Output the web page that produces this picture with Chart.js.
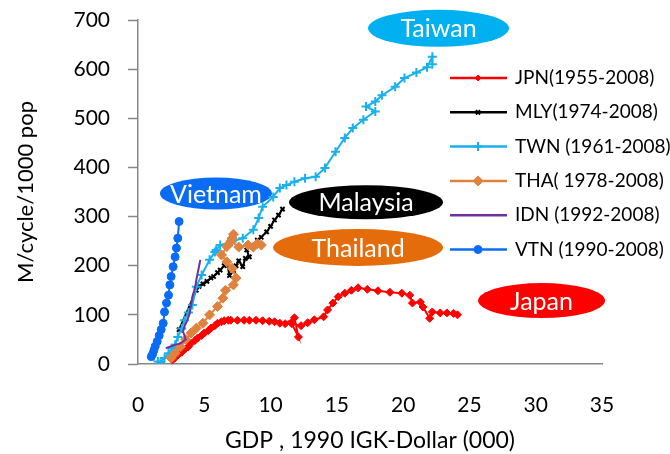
<!DOCTYPE html>
<html>
<head>
<meta charset="utf-8">
<script src="https://cdn.jsdelivr.net/npm/chart.js@4.4.0/dist/chart.umd.min.js"></script>
<style>
    html, body { margin: 0; padding: 0; background: #fff; }
    #chart-container { width: 670px; height: 454px; }
</style>
</head>
<body>
<div id="chart-container"><canvas id="myChart" width="670" height="454"></canvas></div>
<script>
// GDP (1990 IGK-Dollar, thousands) and motorcycles per 1000 people
const jpnGdp = [2.6, 2.8, 3.0, 3.3, 3.5, 3.8, 4.0, 4.3, 4.5, 4.8, 5.0, 5.3, 5.5, 5.8, 6.0, 6.3, 6.5, 6.8, 7.0, 7.5, 8.0, 8.4, 8.9, 9.4, 9.9, 10.3, 10.7, 11.1, 11.8, 12.1, 11.6, 12.3, 12.8, 13.3, 14.0, 14.3, 14.7, 15.1, 15.6, 16.1, 16.6, 17.3, 18.1, 19.0, 19.9, 20.5, 20.7, 21.3, 21.5, 22.0, 22.2, 22.8, 23.3, 23.8, 24.1];
const jpnCycles = [8, 13, 18, 24, 29, 35, 42, 48, 53, 58, 63, 68, 73, 78, 83, 86, 88, 89, 89, 89, 89, 89, 89, 88, 87, 86, 83, 82, 94, 55, 82, 78, 84, 90, 96, 110, 124, 137, 144, 150, 155, 152, 149, 146, 144, 140, 124, 126, 116, 93, 106, 104, 104, 103, 100];

const mlyGdp = [3.1, 4.4, 4.6, 4.9, 5.2, 5.5, 5.7, 6.0, 6.2, 6.5, 6.7, 6.9, 7.2, 7.4, 7.6, 7.9, 8.1, 8.4, 8.2, 8.6, 9.0, 9.3, 9.7, 10.0, 10.3, 10.6, 10.9];
const mlyCycles = [70, 150, 158, 163, 168, 175, 178, 186, 191, 200, 208, 180, 190, 200, 210, 198, 215, 218, 232, 240, 252, 258, 269, 280, 293, 303, 315];

const twnGdp = [1.5, 1.7, 2.0, 2.3, 2.6, 2.8, 3.0, 3.3, 3.5, 3.8, 4.1, 4.4, 4.8, 5.4, 5.8, 5.9, 6.2, 7.1, 7.9, 8.7, 9.1, 9.4, 10.2, 10.7, 11.2, 11.8, 12.6, 13.4, 14.1, 14.9, 15.6, 16.2, 17.0, 17.9, 17.2, 17.9, 18.4, 19.4, 20.1, 21.0, 21.8, 22.2, 22.2];
const twnCycles = [5, 4, 12, 22, 32, 39, 55, 72, 89, 105, 120, 157, 181, 212, 228, 232, 242, 249, 256, 273, 297, 320, 340, 358, 364, 371, 378, 381, 399, 432, 460, 480, 497, 514, 524, 534, 547, 564, 582, 593, 604, 625, 610];

const thaGdp = [2.5, 2.8, 3.2, 3.6, 4.0, 4.4, 4.9, 5.4, 6.0, 6.4, 6.6, 7.2, 7.4, 7.1, 6.7, 6.3, 6.7, 7.1, 7.2, 7.0, 7.6, 8.3, 8.7, 9.0, 9.3];
const thaCycles = [12, 22, 35, 50, 63, 73, 83, 100, 117, 134, 150, 161, 175, 195, 208, 222, 239, 256, 264, 250, 238, 242, 238, 245, 242];

const idnGdp = [2.1, 2.5, 2.9, 3.2, 3.6, 3.4, 3.5, 3.7, 3.9, 4.0, 4.1, 4.3, 4.4, 4.5, 4.6, 4.7];
const idnCycles = [32, 36, 40, 42, 50, 66, 76, 88, 103, 120, 137, 155, 171, 185, 198, 212];

const vtnGdp = [1.0, 1.1, 1.2, 1.3, 1.45, 1.6, 1.75, 1.9, 2.0, 2.15, 2.3, 2.4, 2.5, 2.65, 2.8, 2.9, 3.0, 3.1];
const vtnCycles = [15, 20, 28, 36, 46, 58, 70, 83, 106, 124, 140, 161, 178, 198, 218, 236, 256, 290];

const seriesNames = ['JPN(1955-2008)', 'MLY(1974-2008)', 'TWN (1961-2008)', 'THA( 1978-2008)', 'IDN (1992-2008)', 'VTN (1990-2008)'];
const xTicks = [0, 5, 10, 15, 20, 25, 30, 35];
const yTicks = [0, 100, 200, 300, 400, 500, 600, 700];

// country callouts (ellipse labels), anchored in data units
const calloutNames = ['Taiwan', 'Vietnam', 'Malaysia', 'Thailand', 'Japan'];
const calloutGdp = [22.67, 5.88, 17.2, 16.6, 30.44];
const calloutCycles = [683, 347, 329, 237, 129];

// styling
const FONT = 'Lato';
const seriesColors = ['#ff0000', '#000000', '#1ab0ec', '#e0823d', '#7030a0', '#0a6cf5'];
const seriesPoints = ['rectRot', 'crossRot', 'cross', 'rectRot', false, 'circle'];
const seriesRadius = [4, 3, 4.5, 5, 0, 4];
const calloutColors = ['#00b0f0', '#0a6cf5', '#000000', '#e46c0a', '#ff0000'];
const calloutSizes = [[141, 37], [112, 32], [154, 34], [170, 37], [127, 35]];

function toPoints(xs, ys) {
    return xs.map((x, i) => ({ x: x, y: ys[i] }));
}

const allData = [
    toPoints(jpnGdp, jpnCycles),
    toPoints(mlyGdp, mlyCycles),
    toPoints(twnGdp, twnCycles),
    toPoints(thaGdp, thaCycles),
    toPoints(idnGdp, idnCycles),
    toPoints(vtnGdp, vtnCycles)
];

// later series are painted on top (as in the original spreadsheet chart)
const datasets = allData.map((pts, i) => ({
    label: seriesNames[i],
    data: pts,
    order: allData.length - i,
    showLine: true,
    borderColor: seriesColors[i],
    backgroundColor: seriesColors[i],
    borderWidth: 2,
    pointStyle: seriesPoints[i],
    pointRadius: seriesRadius[i],
    pointHoverRadius: seriesRadius[i],
    pointBorderWidth: seriesPoints[i] === 'cross' || seriesPoints[i] === 'crossRot' ? 2 : 1,
    tension: 0
}));

// ellipses with white country names, drawn under the series
const calloutPlugin = {
    id: 'callouts',
    beforeDatasetsDraw(chart) {
        const ctx = chart.ctx;
        const xs = chart.scales.x, ys = chart.scales.y;
        calloutNames.forEach((name, i) => {
            const cx = xs.getPixelForValue(calloutGdp[i]);
            const cy = ys.getPixelForValue(calloutCycles[i]);
            const [w, h] = calloutSizes[i];
            ctx.save();
            ctx.fillStyle = calloutColors[i];
            ctx.beginPath();
            ctx.ellipse(cx, cy, w / 2, h / 2, 0, 0, Math.PI * 2);
            ctx.fill();
            ctx.fillStyle = '#ffffff';
            ctx.font = '25px ' + FONT;
            ctx.textAlign = 'center';
            ctx.textBaseline = 'middle';
            ctx.fillText(name, cx, cy + 1);
            ctx.restore();
        });
    }
};

// legend drawn inside the plot on the right, line + marker + text
const legendPlugin = {
    id: 'sideLegend',
    afterDraw(chart) {
        const ctx = chart.ctx;
        chart.data.datasets.forEach((ds, i) => {
            const y = 78 + i * 34.3;
            ctx.save();
            ctx.strokeStyle = ds.borderColor;
            ctx.lineWidth = 2.5;
            ctx.beginPath();
            ctx.moveTo(450, y);
            ctx.lineTo(507, y);
            ctx.stroke();
            if (ds.pointStyle) {
                ctx.fillStyle = ds.borderColor;
                ctx.strokeStyle = ds.borderColor;
                ctx.lineWidth = ds.pointBorderWidth;
                Chart.helpers.drawPoint(ctx, {
                    pointStyle: ds.pointStyle,
                    radius: i === 0 ? 3 : ds.pointRadius,
                    borderWidth: ds.pointBorderWidth,
                    rotation: 0
                }, 478, y);
            }
            ctx.fillStyle = '#000';
            ctx.font = '19px ' + FONT;
            ctx.textAlign = 'left';
            ctx.textBaseline = 'middle';
            ctx.fillText(ds.label, 515, y);
            ctx.restore();
        });
    }
};

new Chart('myChart', {
    type: 'scatter',
    data: { datasets: datasets },
    plugins: [calloutPlugin, legendPlugin],
    options: {
        responsive: false,
        animation: false,
        layout: { padding: { top: 20, right: 68, left: 0, bottom: 0 } },
        plugins: {
            legend: { display: false },
            tooltip: { enabled: false }
        },
        scales: {
            x: {
                type: 'linear',
                min: 0,
                max: 35,
                afterBuildTicks: s => { s.ticks = xTicks.map(v => ({ value: v })); },
                afterFit: s => { s.height = 90; },
                ticks: { font: { family: FONT, size: 21 }, color: '#000', padding: 29, maxRotation: 0, autoSkip: false },
                grid: { drawOnChartArea: false, drawTicks: false },
                border: { color: '#878787', width: 1.5 },
                title: {
                    display: true,
                    text: 'GDP , 1990 IGK-Dollar (000)',
                    font: { family: FONT, size: 23 },
                    color: '#000',
                    padding: { top: 0, bottom: 0 }
                }
            },
            y: {
                min: 0,
                max: 700,
                afterBuildTicks: s => { s.ticks = yTicks.map(v => ({ value: v })); },
                // fixed width, and no extra top/bottom padding from the tick padding
                afterFit: s => { s.width = 138; s.paddingTop = 0; s.paddingBottom = 0; },
                ticks: { font: { family: FONT, size: 21 }, color: '#000', padding: 18, autoSkip: false },
                grid: { drawOnChartArea: false, drawTicks: true, tickLength: 10, color: '#878787', tickWidth: 1.5 },
                border: { color: '#878787', width: 1.5 },
                title: {
                    display: true,
                    text: 'M/cycle/1000 pop',
                    font: { family: FONT, size: 22 },
                    color: '#000',
                    padding: { top: 13, bottom: 0 }
                }
            }
        }
    }
});
</script>
</body>
</html>
